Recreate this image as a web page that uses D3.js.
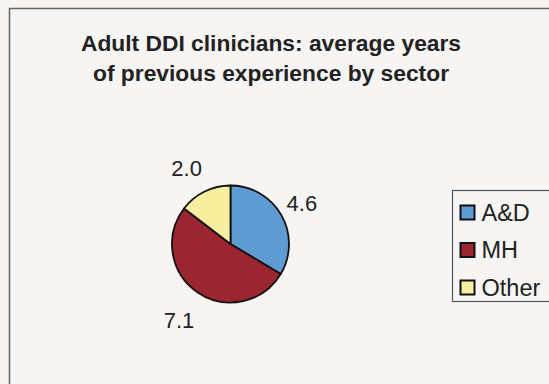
<!DOCTYPE html>
<html>
<head>
<meta charset="utf-8">
<script src="https://cdn.jsdelivr.net/npm/d3@7"></script>
<style>
  html, body { margin: 0; padding: 0; background: #f6f4f2; }
  svg { display: block; }
</style>
</head>
<body>
<svg id="chart" width="549" height="384"></svg>
<script>
// Average years of previous experience, by sector
const sectors = ["A&D", "MH", "Other"];
const years = [4.6, 7.1, 2.0];
const sectorColors = ["#5f9bd3", "#9b2632", "#f7eea0"];
const titleLines = ["Adult DDI clinicians: average years", "of previous experience by sector"];

const svg = d3.select("#chart");
const font = "'Liberation Sans', Arial, sans-serif";

// chart area frame
svg.append("rect")
  .attr("x", 9.5).attr("y", 8.5)
  .attr("width", 560).attr("height", 400)
  .attr("fill", "#f7f5f3")
  .attr("stroke", "#666").attr("stroke-width", 1.5);

// title
svg.append("text")
  .attr("x", 271).attr("y", 51)
  .attr("text-anchor", "middle")
  .attr("font-family", font).attr("font-weight", "bold")
  .attr("font-size", 22.8).attr("fill", "#222")
  .selectAll("tspan").data(titleLines).join("tspan")
  .attr("x", 271).attr("dy", (d, i) => i === 0 ? 0 : 29.5)
  .text(d => d);

// pie
const cx = 230.5, cy = 244, r = 58.5;
const data = sectors.map((s, i) => ({ sector: s, value: years[i], color: sectorColors[i] }));
const pie = d3.pie().sort(null).value(d => d.value);
const arcs = pie(data);
const arc = d3.arc().innerRadius(0).outerRadius(r);
const labelR = r + 6;

const g = svg.append("g").attr("transform", `translate(${cx},${cy})`);
g.selectAll("path").data(arcs).join("path")
  .attr("d", arc)
  .attr("fill", d => d.data.color)
  .attr("stroke", "#111").attr("stroke-width", 1.8)
  .attr("stroke-linejoin", "round");

// value labels sit just outside the rim, pushed out by their own box size
const labels = g.selectAll("text.value").data(arcs).join("text")
  .attr("class", "value")
  .attr("text-anchor", "middle")
  .attr("dy", "0.36em")
  .attr("font-family", font).attr("font-size", 22).attr("fill", "#222")
  .text(d => d3.format(".1f")(d.data.value));

labels.each(function(d) {
  const box = this.getBBox();
  const a = (d.startAngle + d.endAngle) / 2;
  const sx = Math.sin(a), cy0 = -Math.cos(a);
  const x = sx * labelR + Math.sign(sx) * box.width / 2;
  const y = cy0 * labelR + cy0 * box.height * 0.95 + 3;
  d3.select(this).attr("transform", `translate(${x},${y})`);
});

// legend
const lx = 452.5, ly = 190.5;
svg.append("rect")
  .attr("x", lx).attr("y", ly)
  .attr("width", 120).attr("height", 111)
  .attr("fill", "#f7f5f3")
  .attr("stroke", "#555").attr("stroke-width", 1.2);

const item = svg.append("g").selectAll("g").data(data).join("g")
  .attr("transform", (d, i) => `translate(${lx + 8},${ly + 22 + i * 37.5})`);
item.append("rect")
  .attr("x", 0).attr("y", -7).attr("width", 14).attr("height", 14)
  .attr("fill", d => d.color)
  .attr("stroke", "#111").attr("stroke-width", 2);
item.append("text")
  .attr("x", 21).attr("y", 0)
  .attr("dy", "0.36em")
  .attr("font-family", font).attr("font-size", 23.5).attr("fill", "#222")
  .text(d => d.sector);
</script>
</body>
</html>
